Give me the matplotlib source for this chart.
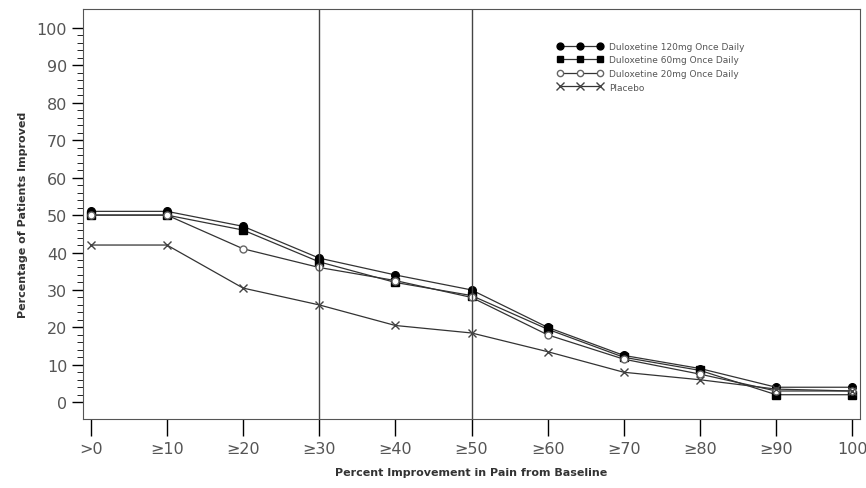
import matplotlib.pyplot as plt
import numpy as np

labels = ['>0', '≥10', '≥20', '≥30', '≥40', '≥50', '≥60', '≥70', '≥80', '≥90', '100']
dlx120 = [51, 51, 47, 38.5, 34, 30, 20, 12.5, 9, 4, 4]
dlx60 = [50, 50, 46, 37.5, 32, 28.5, 19.5, 12, 8.5, 2, 2]
dlx20 = [50, 50, 41, 36, 32.5, 28, 18, 11.5, 7.5, 3, 3]
placebo = [42, 42, 30.5, 26, 20.5, 18.5, 13.5, 8, 6, 3.5, 3]

x = np.arange(len(labels))
fig = plt.figure(figsize=(8.66, 4.89), dpi=100)
ax = fig.add_axes([0.096, 0.141, 0.897, 0.838])
c = '#333333'
ax.plot(x, dlx120, '-o', color=c, mfc='black', mec='black', ms=5.5, lw=0.9, label='Duloxetine 120mg Once Daily')
ax.plot(x, dlx60, '-s', color=c, mfc='black', mec='black', ms=5.5, lw=0.9, label='Duloxetine 60mg Once Daily')
ax.plot(x, dlx20, '-o', color=c, mfc='white', mec='#666666', ms=5, lw=0.9, label='Duloxetine 20mg Once Daily')
ax.plot(x, placebo, '-x', color=c, mec='#444444', ms=6, lw=0.9, label='Placebo')
ax.axvline(3, color='#444444', lw=1)
ax.axvline(5, color='#444444', lw=1)

ax.set_xlim(-0.1, 10.1)
ax.set_ylim(-4.5, 105)
ax.set_xticks(x)
ax.set_xticklabels(labels, fontsize=11.5, color='#555555')
ax.set_yticks(range(0, 101, 10))
ax.set_yticks(range(0, 101, 2), minor=True)
ax.tick_params(axis='y', labelsize=11.5, labelcolor='#555555', length=8, width=1)
ax.tick_params(axis='y', which='minor', length=4)
ax.tick_params(axis='x', length=12, width=1, pad=4)
for s in ax.spines.values():
    s.set_color('#555555')
ax.set_xlabel('Percent Improvement in Pain from Baseline', fontsize=8, fontweight='bold', color='#333333', labelpad=8)
ax.set_ylabel('Percentage of Patients Improved', fontsize=8, fontweight='bold', color='#333333', labelpad=6)
leg = ax.legend(loc='upper left', bbox_to_anchor=(0.6, 0.94), numpoints=3, frameon=False,
                fontsize=6.5, handlelength=5, handletextpad=0.7, labelcolor='#555555', labelspacing=0.5,
                markerscale=0.9)
fig.savefig('out.png')
